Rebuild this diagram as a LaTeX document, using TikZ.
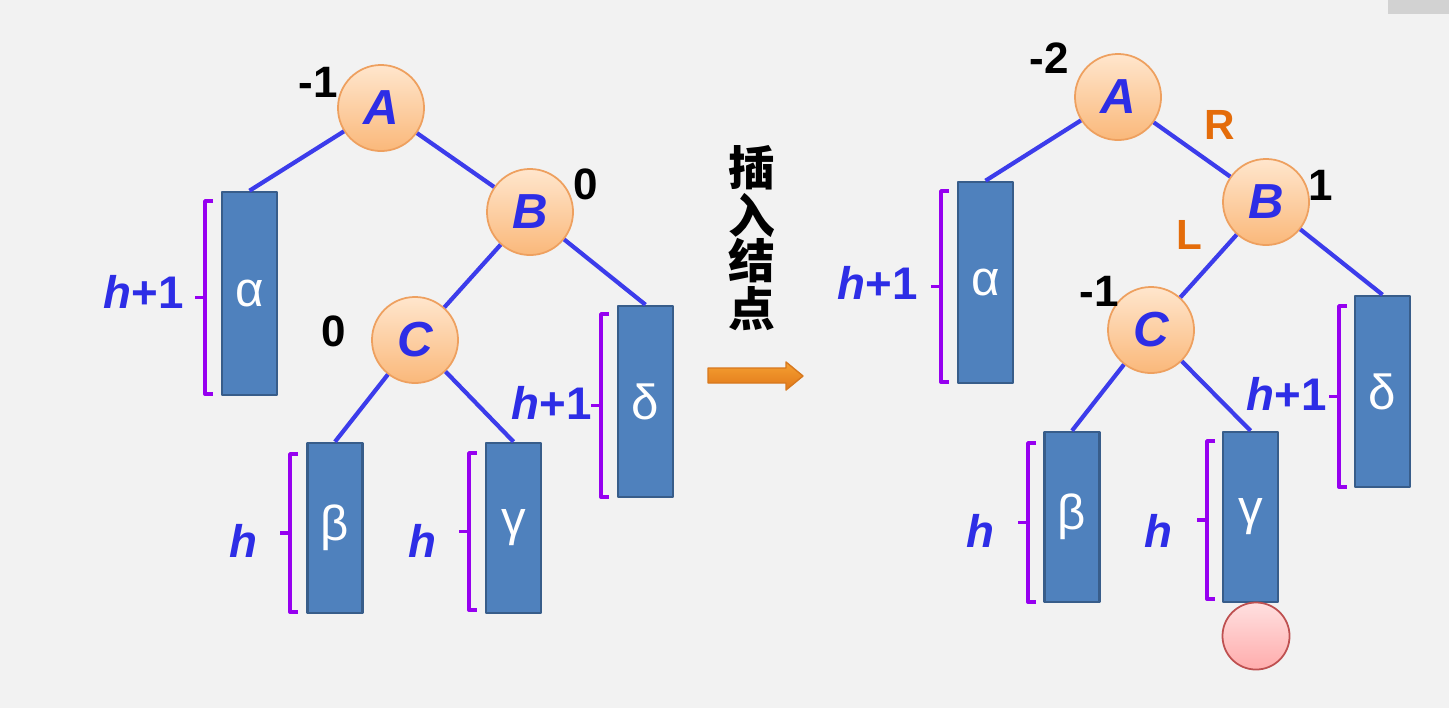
\documentclass[tikz,border=0pt]{standalone}
\usepackage{fontspec}
\setmainfont{Liberation Sans}
\newfontfamily\cjk{Noto Sans CJK SC}
\usetikzlibrary{positioning}
\definecolor{bgcol}{RGB}{242,242,242}
\definecolor{edgeblue}{RGB}{60,60,235}
\definecolor{txtblue}{RGB}{45,45,230}
\definecolor{boxfill}{RGB}{79,129,189}
\definecolor{boxline}{RGB}{56,93,138}
\definecolor{brcol}{RGB}{150,0,240}
\definecolor{lrcol}{RGB}{228,108,10}
\definecolor{peachtop}{RGB}{255,230,205}
\definecolor{peachbot}{RGB}{250,184,122}
\definecolor{peachline}{RGB}{238,160,95}
\definecolor{pinktop}{RGB}{255,224,224}
\definecolor{pinkbot}{RGB}{255,172,172}
\definecolor{pinkline}{RGB}{190,80,80}
\definecolor{arrtop}{RGB}{245,160,50}
\definecolor{arrmid}{RGB}{255,220,140}
\definecolor{arrbot}{RGB}{225,120,25}
\definecolor{arrline}{RGB}{215,120,30}
\begin{document}
\begin{tikzpicture}[x=0.01cm,y=-0.01cm,line join=round,
	vtx/.style={circle,minimum size=0.86cm,inner sep=0pt,draw=peachline,line width=0.5pt,
		top color=peachtop,bottom color=peachbot,text=txtblue,
		font=\fontsize{14}{14}\selectfont\bfseries\itshape},
	blk/.style={rectangle,minimum width=0.55cm,inner sep=0pt,draw=boxline,line width=0.7pt,
		fill=boxfill,text=white,font=\fontsize{14}{14}\selectfont},
	edge/.style={edgeblue,line width=1.2pt},
	brc/.style={brcol,line width=1.1pt},
	hlab/.style={text=txtblue,inner sep=0pt,font=\fontsize{13}{13}\selectfont\bfseries},
	bal/.style={inner sep=0pt,font=\fontsize{12.5}{13}\selectfont\bfseries},
	rot/.style={text=lrcol,inner sep=0pt,font=\fontsize{12}{12}\selectfont\bfseries}]
	\fill[bgcol] (0,0) rectangle (1449,708);
	\fill[gray!35] (1388,0) rectangle (1449,14);
	% left tree
	\node[vtx] (lA) at (381,108) {A};
	\node[vtx] (lB) at (530,212) {B};
	\node[vtx] (lC) at (415,340) {C};
	\node[blk,minimum height=2.03cm] (lal) at (249.5,293.5) {α};
	\node[blk,minimum height=1.70cm] (lbe) at (335,528) {β};
	\node[blk,minimum height=1.70cm] (lga) at (513.5,528) {γ};
	\node[blk,minimum height=1.91cm] (lde) at (645.5,401.5) {δ};
	\draw[edge] (lA) -- (lal.north);
	\draw[edge] (lA) -- (lB);
	\draw[edge] (lB) -- (lC);
	\draw[edge] (lB) -- (lde.north);
	\draw[edge] (lC) -- (lbe.north);
	\draw[edge] (lC) -- (lga.north);
	\node[bal] (lbA) at (318,82) {-1};
	\node[bal] (lbB) at (586,184) {0};
	\node[bal] (lbC) at (334,331) {0};
	% right tree
	\node[vtx] (rA) at (1118,97) {A};
	\node[vtx] (rB) at (1266,202) {B};
	\node[vtx] (rC) at (1151,330) {C};
	\node[blk,minimum height=2.01cm] (ral) at (985.5,282.5) {α};
	\node[blk,minimum height=1.70cm] (rbe) at (1072,517) {β};
	\node[blk,minimum height=1.70cm] (rga) at (1250.5,517) {γ};
	\node[blk,minimum height=1.91cm] (rde) at (1382.5,391.5) {δ};
	\node[circle,minimum size=0.67cm,inner sep=0pt,draw=pinkline,line width=0.5pt,
		top color=pinktop,bottom color=pinkbot] (rN) at (1256,636) {};
	\draw[edge] (rA) -- (ral.north);
	\draw[edge] (rA) -- (rB);
	\draw[edge] (rB) -- (rC);
	\draw[edge] (rB) -- (rde.north);
	\draw[edge] (rC) -- (rbe.north);
	\draw[edge] (rC) -- (rga.north);
	\node[bal] (rbA) at (1049,58) {-2};
	\node[bal] (rbB) at (1321,185) {1};
	\node[bal] (rbC) at (1099,291) {-1};
	\node[rot] (rR) at (1220,125) {R};
	\node[rot] (rL) at (1189,235) {L};
	% braces
	\foreach \bx/\bt/\bb in {205/201/394,290/454/612,469/453/610,601/314/497,
		941/191/382,1028/443/602,1207/441/599,1339/306/487}
	\draw[brc] (\bx+8,\bt) -- (\bx,\bt) -- (\bx,\bb) -- (\bx+8,\bb)
		(\bx,{(\bt+\bb)/2}) -- (\bx-10,{(\bt+\bb)/2});
	\node[hlab] (hlal) at (144,292) {\textit{h}+1};
	\node[hlab] (hlbe) at (243,541) {\textit{h}};
	\node[hlab] (hlga) at (422,541) {\textit{h}};
	\node[hlab] (hlde) at (552,403) {\textit{h}+1};
	\node[hlab] (hral) at (878,283) {\textit{h}+1};
	\node[hlab] (hrbe) at (980,531) {\textit{h}};
	\node[hlab] (hrga) at (1158,531) {\textit{h}};
	\node[hlab] (hrde) at (1287,394) {\textit{h}+1};
	% middle
	\node[inner sep=0pt,align=center,font=\cjk\fontsize{13.3}{12.6}\selectfont\bfseries] (ins) at (752,238) {插\\入\\结\\点};
	\shade[top color=arrtop,middle color=arrmid,bottom color=arrbot,draw=arrline,line width=0.4pt]
		(708,368) -- (786,368) -- (786,362) -- (803,376) -- (786,390) -- (786,383) -- (708,383) -- cycle;
\end{tikzpicture}
\end{document}
